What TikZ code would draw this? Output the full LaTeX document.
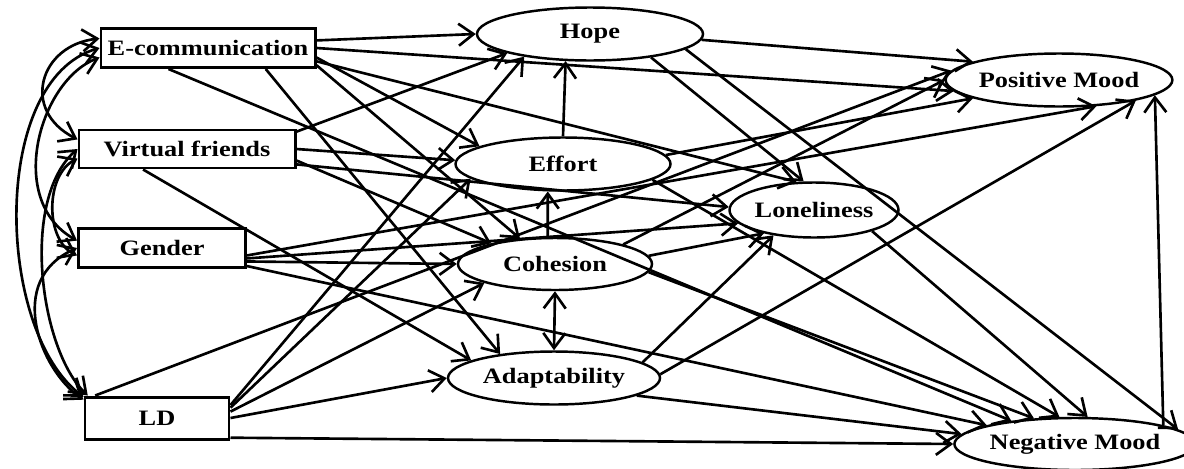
\documentclass[tikz,border=0pt]{standalone}
\usepackage{fontspec}
\setmainfont{Liberation Serif}[FakeStretch=1.2]
\usetikzlibrary{shapes.geometric,arrows.meta}

\begin{document}
\begin{tikzpicture}[x=0.2mm, y=-0.2mm,
    box/.style = {draw, rectangle, line width=1.7pt, inner sep=0pt, minimum height=7.8mm, font=\bfseries\fontsize{12.5}{14}\selectfont},
    latent/.style = {draw, ellipse, line width=1.4pt, inner sep=0pt, minimum height=10.6mm, font=\bfseries\fontsize{12.5}{14}\selectfont},
    effect/.style = {-{Straight Barb[length=3mm,width=4.4mm]}, line width=1.5pt},
    covar/.style = {{Straight Barb[length=3mm,width=4.4mm]}-{Straight Barb[length=3mm,width=4.4mm]}, line width=1.5pt}]

    \useasboundingbox (0,0) rectangle (1184,468);

    % Nodes
    \node[box, minimum width=42.8mm] (EC) at (208,48) {E-communication};
    \node[box, minimum width=43.2mm, minimum height=7.6mm] (VF) at (187,149) {Virtual friends};
    \node[box, minimum width=33.4mm] (GE) at (162,248) {Gender};
    \node[box, minimum width=28.8mm, minimum height=8.4mm] (LD) at (157,418) {LD};
    \node[latent, minimum width=45.2mm] (HO) at (590,34) {Hope};
    \node[latent, minimum width=43mm] (EF) at (563,164) {Effort};
    \node[latent, minimum width=38.8mm, minimum height=10.4mm] (CO) at (555,264) {Cohesion};
    \node[latent, minimum width=42.4mm] (AD) at (554,378) {Adaptability};
    \node[latent, minimum width=33.8mm, minimum height=11mm] (LO) at (814,210) {Loneliness};
    \node[latent, minimum width=40.4mm] (PM) at (1059,80) {Positive Mood};
    \node[latent, minimum width=42.8mm, minimum height=10.4mm] (NM) at (1075,444) {Negative Mood};

    % Covariances
    \draw[covar] (EC.175) .. controls (40,45) and (20,110) .. (VF.175);
    \draw[covar] (EC.185) .. controls (40,80) and (5,200) .. (GE.175);
    \draw[covar] (EC.180) .. controls (-10,80) and (-5,330) .. (LD.164);
    \draw[covar] (VF.185) .. controls (45,175) and (45,240) .. (GE.185);
    \draw[covar] (VF.180) .. controls (20,200) and (40,350) .. (LD.162);
    \draw[covar] (GE.180) .. controls (5,280) and (40,370) .. (LD.166);

    % Edges
    \draw[effect] (EC.4) to (HO.west);
    \draw[effect] (EC.east) to (PM.186);
    \draw[effect] (EC.-5) to (EF.168);
    \draw[effect] (EC.-7) to (LO.122);
    \draw[effect] (EC.-9) to (CO.144);
    \draw[effect] (EC.-20) to (AD.156);
    \draw[effect] (EC.208) to (NM.160);

    \draw[effect] (VF.9) to (HO.193);
    \draw[effect] (VF.east) to (EF.178);
    \draw[effect] (VF.-6) to (CO.162);
    \draw[effect] (VF.-8) to (LO.178);
    \draw[effect] (VF.205) to (AD.168);

    \draw[effect] (GE.-5) to (PM.-35);
    \draw[effect] (GE.-7) to (LO.190);
    \draw[effect] (GE.-9) to (CO.west);
    \draw[effect] (GE.-12) to (NM.168);

    \draw[effect] (LD.160) to (PM.175);
    \draw[effect] (LD.10) to (HO.199);
    \draw[effect] (LD.8) to (EF.189);
    \draw[effect] (LD.5) to (CO.195);
    \draw[effect] (LD.east) to (AD.west);
    \draw[effect] (LD.-15) to (NM.west);

    \draw[effect] (EF.north) to (HO.228);
    \draw[effect] (EF.5) to (PM.192);
    \draw[effect] (EF.-10) to (NM.120);

    \draw[effect] (CO.105) to (EF.241);
    \draw[covar] (CO.south) to (AD.north);
    \draw[effect] (CO.16) to (PM.180);
    \draw[effect] (CO.5) to (LO.205);
    \draw[effect] (CO.-5) to (NM.148);

    \draw[effect] (HO.-3) to (PM.168);
    \draw[effect] (HO.-21) to (LO.110);
    \draw[effect] (HO.-9) to (NM.8);

    \draw[effect] (AD.10) to (LO.212);
    \draw[effect] (AD.2) to (PM.-15);
    \draw[effect] (AD.-12) to (NM.175);

    \draw[effect] (LO.-20) to (NM.65);
    \draw[effect] (NM.12) to (PM.-9);
\end{tikzpicture}
\end{document}
